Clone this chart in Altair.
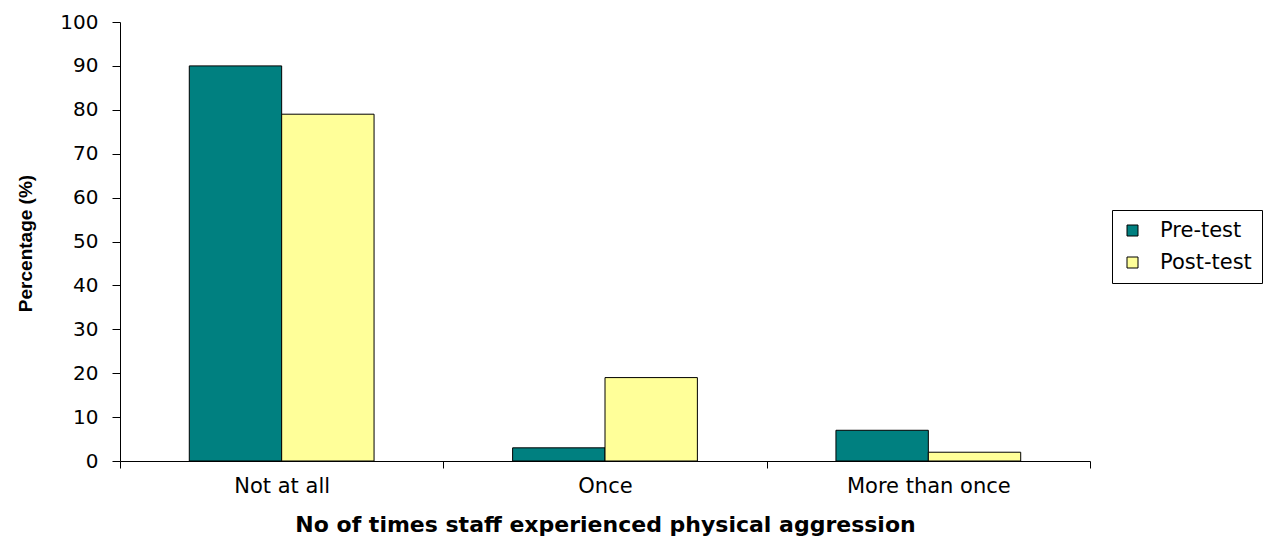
import altair as alt
import pandas as pd

# Survey results: how often staff experienced physical aggression
categories = ["Not at all", "Once", "More than once"]
series = ["Pre-test", "Post-test"]
pre_test = [90, 3, 7]
post_test = [79, 19, 2]
colors = ["#008080", "#FFFF99"]

rows = []
for cat, a, b in zip(categories, pre_test, post_test):
    rows.append({"category": cat, "test": series[0], "value": a})
    rows.append({"category": cat, "test": series[1], "value": b})
df = pd.DataFrame(rows)

label_font = "DejaVu Sans"

bars = alt.Chart(df).mark_bar(stroke="black", strokeWidth=1).encode(
    x=alt.X(
        "category:N",
        sort=categories,
        scale=alt.Scale(paddingInner=0, paddingOuter=0),
        axis=alt.Axis(
            title="No of times staff experienced physical aggression",
            labelAngle=0,
            labelFont=label_font,
            labelFontSize=21,
            labelColor="black",
            labelPadding=7,
            tickBand="extent",
            tickSize=7,
            tickColor="black",
            domainColor="black",
            titleFont=label_font,
            titleFontSize=22,
            titleFontWeight="bold",
            titleColor="black",
            titleBaseline="alphabetic",
            titleY=70,
            grid=False,
        ),
    ),
    xOffset=alt.XOffset(
        "test:N",
        sort=series,
        scale=alt.Scale(domain=series, paddingInner=0, paddingOuter=0.75),
    ),
    y=alt.Y(
        "value:Q",
        scale=alt.Scale(domain=[0, 100]),
        axis=alt.Axis(
            title="Percentage (%)",
            values=list(range(0, 101, 10)),
            labelFont=label_font,
            labelFontSize=20,
            labelColor="black",
            labelPadding=14,
            tickSize=8,
            tickColor="black",
            domainColor="black",
            titleFont="Liberation Sans",
            titleFontSize=19,
            titleFontWeight="bold",
            titleColor="black",
            titleAngle=270,
            titleBaseline="alphabetic",
            titleX=-89,
            titleY=221,
            grid=False,
        ),
    ),
    color=alt.Color(
        "test:N",
        sort=series,
        scale=alt.Scale(domain=series, range=colors),
        legend=alt.Legend(
            title=None,
            orient="none",
            legendX=992,
            legendY=188,
            symbolType="square",
            symbolSize=121,
            symbolStrokeColor="black",
            symbolStrokeWidth=1,
            labelFont=label_font,
            labelFontSize=21,
            labelColor="black",
            labelOffset=17,
            rowPadding=10,
            padding=10,
            strokeColor="black",
            fillColor="white",
        ),
    ),
).properties(
    width=970,
    height=439,
    autosize=alt.AutoSizeParams(type="none"),
    padding={"left": 120, "top": 22, "right": 178, "bottom": 75},
)

chart = bars.configure(background="white").configure_view(strokeWidth=0, strokeOpacity=0)

chart.save("out.html", embed_options={"renderer": "svg", "actions": False})
